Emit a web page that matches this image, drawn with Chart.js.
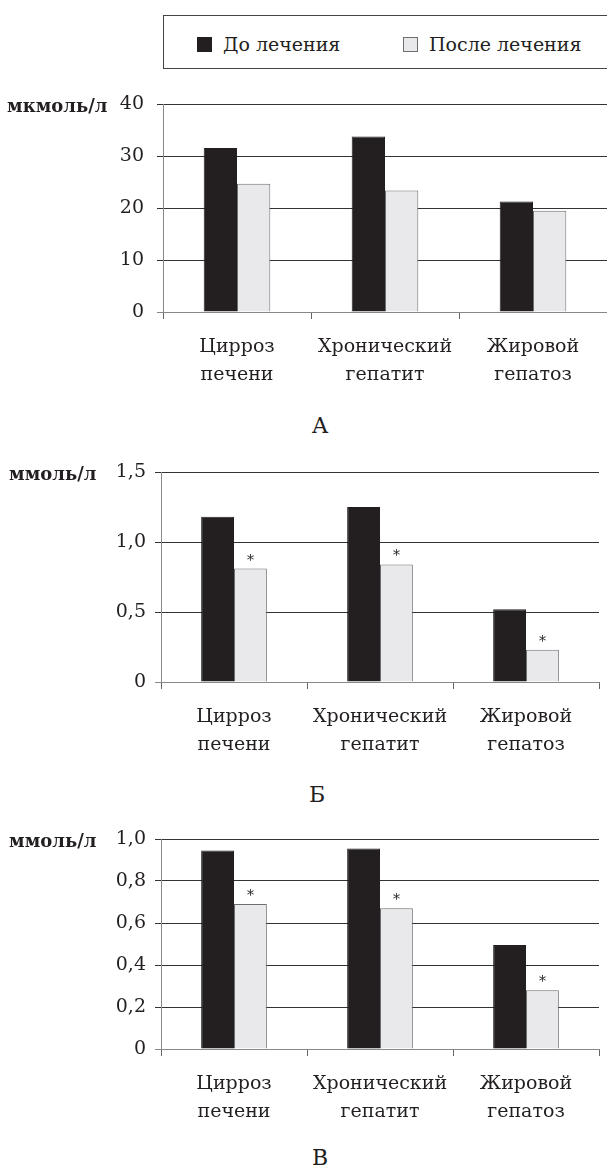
<!DOCTYPE html>
<html lang="ru">
<head>
<meta charset="utf-8">
<script src="https://cdn.jsdelivr.net/npm/chart.js@4"></script>
<style>
  body { margin: 0; background: #fff; width: 607px; height: 1165px; position: relative; overflow: hidden;
         font-family: "DejaVu Serif", serif; color: #231f20; }
  canvas { position: absolute; left: 0; }
  .legend { position: absolute; left: 163px; top: 15px; width: 470px; height: 54px; box-sizing: border-box; border: 1px solid #444; }
  .sw { position: absolute; top: 21px; width: 15px; height: 15px; box-sizing: border-box; }
  .lt { position: absolute; top: 15px; font-size: 19px; line-height: 26px; white-space: nowrap; }
  .letter { position: absolute; width: 40px; margin-left: -20px; text-align: center; font-size: 22px; line-height: 24px; }
</style>
</head>
<body>
<div class="legend" id="legend"></div>
<canvas id="chartA" width="607" height="320" style="top:80px"></canvas>
<div class="letter" style="left:320px; top:414px">А</div>
<canvas id="chartB" width="607" height="320" style="top:450px"></canvas>
<div class="letter" style="left:317px; top:783px">Б</div>
<canvas id="chartC" width="607" height="320" style="top:817px"></canvas>
<div class="letter" style="left:320px; top:1146px">В</div>

<script>
// data
const categories = [["Цирроз", "печени"], ["Хронический", "гепатит"], ["Жировой", "гепатоз"]];
const seriesNames = ["До лечения", "После лечения"];

const beforeA = [31.6, 33.8, 21.3];
const afterA = [24.7, 23.4, 19.5];
const ticksA = ["0", "10", "20", "30", "40"];
const marksA = ["", "", ""];

const beforeB = [1.18, 1.25, 0.52];
const afterB = [0.81, 0.84, 0.23];
const ticksB = ["0", "0,5", "1,0", "1,5"];
const marksB = ["*", "*", "*"];

const beforeC = [0.945, 0.955, 0.495];
const afterC = [0.69, 0.67, 0.28];
const ticksC = ["0", "0,2", "0,4", "0,6", "0,8", "1,0"];
const marksC = ["*", "*", "*"];

const DARK = "#231f20";
const LIGHT = "#e9e9eb";
const LIGHT_EDGE = "#6d6e71";
const TEXT = "#231f20";

// legend box (html)
const legend = document.getElementById("legend");
const swatches = [
    { left: 33, bg: DARK, border: DARK },
    { left: 239, bg: LIGHT, border: LIGHT_EDGE }
];
seriesNames.forEach((name, i) => {
    const sw = document.createElement("div");
    sw.className = "sw";
    sw.style.left = swatches[i].left + "px";
    sw.style.background = swatches[i].bg;
    sw.style.border = "1px solid " + swatches[i].border;
    legend.appendChild(sw);
    const t = document.createElement("div");
    t.className = "lt";
    t.style.left = (swatches[i].left + 26) + "px";
    t.textContent = name;
    legend.appendChild(t);
});

// unit caption at the top of the y axis
const unitTitle = {
    id: "unitTitle",
    afterDraw(chart, args, opts) {
        const ctx = chart.ctx;
        ctx.save();
        ctx.font = 'bold 18px "DejaVu Serif"';
        ctx.fillStyle = TEXT;
        ctx.textAlign = "left";
        ctx.textBaseline = "alphabetic";
        ctx.fillText(opts.text, opts.x, chart.scales.y.top + 8);
        ctx.restore();
    }
};

// asterisks above the "after" bars
const barMarks = {
    id: "barMarks",
    afterDatasetsDraw(chart, args, opts) {
        const ctx = chart.ctx;
        const meta = chart.getDatasetMeta(1);
        ctx.save();
        ctx.font = '14px "DejaVu Serif"';
        ctx.fillStyle = TEXT;
        ctx.textAlign = "center";
        ctx.textBaseline = "alphabetic";
        meta.data.forEach((bar, i) => {
            if (opts.marks[i]) ctx.fillText(opts.marks[i], bar.x, bar.y - 4);
        });
        ctx.restore();
    }
};

function drawPanel(id, before, after, tickLabels, maxY, step, unit, unitX, marks, yWidth, padRight, tickPad) {
    new Chart(document.getElementById(id), {
        type: "bar",
        data: {
            labels: categories,
            datasets: [
                { label: seriesNames[0], data: before, backgroundColor: DARK, borderColor: DARK, borderWidth: 1 },
                { label: seriesNames[1], data: after, backgroundColor: LIGHT, borderColor: LIGHT_EDGE, borderWidth: 1 }
            ]
        },
        options: {
            responsive: false,
            animation: false,
            layout: { padding: { top: 22, right: padRight, left: 0, bottom: 0 } },
            datasets: { bar: { categoryPercentage: 0.45, barPercentage: 1 } },
            plugins: {
                legend: { display: false },
                tooltip: { enabled: false },
                unitTitle: { text: unit, x: unitX },
                barMarks: { marks: marks }
            },
            scales: {
                x: {
                    grid: { offset: true, drawOnChartArea: false, tickLength: 7, color: "#666" },
                    border: { color: "#888" },
                    ticks: {
                        padding: 14,
                        maxRotation: 0,
                        autoSkip: false,
                        color: TEXT,
                        font: { family: "DejaVu Serif", size: 19, lineHeight: "28px" }
                    },
                    afterFit: s => { s.height = 88; }
                },
                y: {
                    min: 0,
                    max: maxY,
                    ticks: {
                        stepSize: step,
                        padding: tickPad,
                        color: TEXT,
                        font: { family: "DejaVu Serif", size: 19 },
                        callback: (v, i) => tickLabels[i]
                    },
                    grid: {
                        tickLength: 6,
                        lineWidth: 1,
                        color: ctx => ctx.index === 0 ? "#888" : "#333"
                    },
                    border: { color: "#888" },
                    afterFit: s => { s.width = yWidth; }
                }
            }
        },
        plugins: [unitTitle, barMarks]
    });
}

drawPanel("chartA", beforeA, afterA, ticksA, 40, 10, "мкмоль/л", 7, marksA, 163, 0, 13);
drawPanel("chartB", beforeB, afterB, ticksB, 1.5, 0.5, "ммоль/л", 9, marksB, 161, 8, 9);
drawPanel("chartC", beforeC, afterC, ticksC, 1.0, 0.2, "ммоль/л", 9, marksC, 161, 8, 9);
</script>
</body>
</html>
